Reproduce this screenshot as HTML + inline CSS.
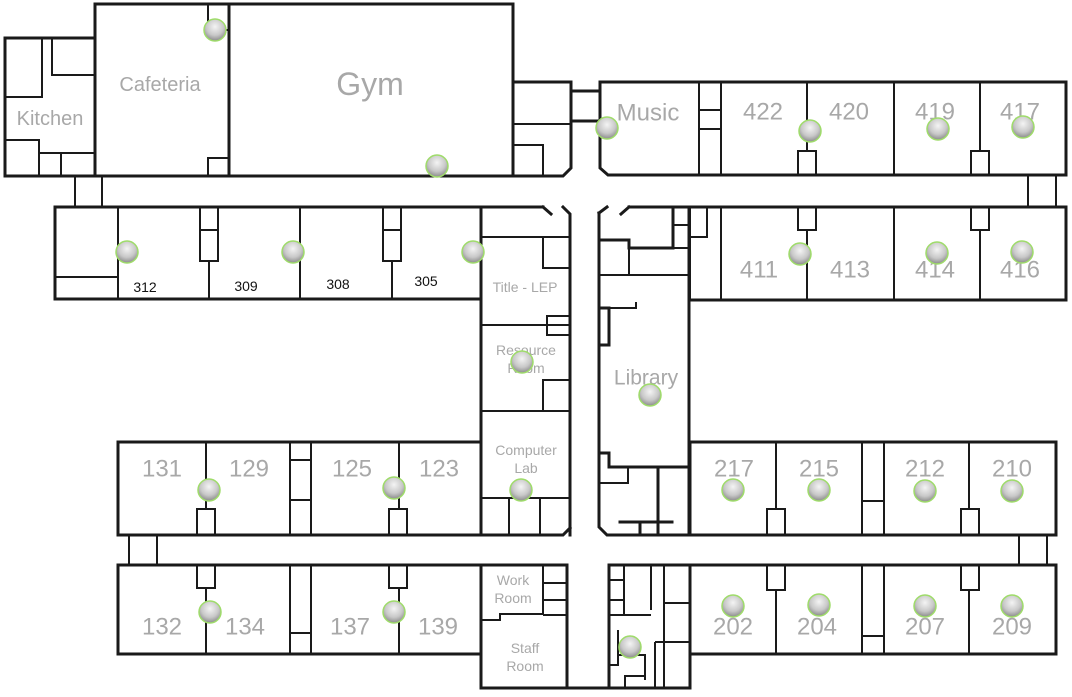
<!DOCTYPE html>
<html><head><meta charset="utf-8"><style>
html,body{margin:0;padding:0;background:#fff;}
svg{display:block;}
text{font-family:"Liberation Sans",sans-serif;fill:#a8a8a8;text-anchor:middle;dominant-baseline:central;}
text.dk{fill:#111;}
</style></head><body>
<svg width="1072" height="697" viewBox="0 0 1072 697" xmlns="http://www.w3.org/2000/svg">
<defs>
<radialGradient id="ap" cx="50%" cy="35%" r="65%">
<stop offset="0" stop-color="#f4f4f4"/><stop offset="0.6" stop-color="#c8c8c8"/><stop offset="1" stop-color="#8a8a8a"/>
</radialGradient>
</defs>
<g fill="none" stroke="#1a1a1a" stroke-width="3" stroke-linecap="square">
<path d="M95 38 H5 V176 H95"/>
<rect x="95" y="4" width="418" height="172"/>
<path d="M229 4 V176"/>
<path d="M513 82 H571 V168 L563 176 H513"/>
<path d="M571 91 H600 M571 121 H600"/>
<path d="M543 207 H55 V299 H481 M543 207 L551 214 M563 207 L570 214 V535"/>
<path d="M481 207 V535 H563 L570 528"/>
<path d="M600 82 H1066 V175 H608 L600 168 V82"/>
<path d="M629 207 H1066 V300 H690"/>
<path d="M599 213 L607 207 M621 214 L629 207"/>
<path d="M599 213 V527 L607 535 H689 V207"/>
<rect x="118" y="442" width="363" height="93"/>
<rect x="118" y="565" width="363" height="89"/>
<rect x="690" y="442" width="366" height="93"/>
<rect x="690" y="565" width="366" height="89"/>
<path d="M481 565 V688 H690 V565 M567 565 V688 M481 565 H567 M609 565 V688 M609 565 H690"/>
<path d="M599 240 H629 V248 H673 V207"/>
<path d="M599 275 V308 H609 V345 H599 M599 453 H609 V467 H689"/>
<path d="M620 522 H672 M640 522 V535 M658 467 V535"/>
</g>
<g fill="none" stroke="#1a1a1a" stroke-width="2">
<path d="M5 97 H42 V38 M52 38 V75 H95"/>
<path d="M5 140 H39 V176 M39 153 H95 M61 153 V176"/>
<rect x="208" y="4" width="21" height="26"/>
<rect x="208" y="158" width="21" height="18"/>
<path d="M513 124 H571 M513 145 H543 V176"/>
<path d="M75 176 V207 M102 176 V207"/>
<path d="M1028 175 V207 M1056 175 V207"/>
<path d="M129 535 V565 M157 535 V565"/>
<path d="M1019 535 V565 M1047 535 V565"/>
<path d="M55 277 H118 M118 207 V299 M209 261 V299 M300 207 V299 M392 261 V299"/>
<rect x="200" y="207" width="18" height="54"/><path d="M200 230 H218"/>
<rect x="383" y="207" width="18" height="54"/><path d="M383 230 H401"/>
<path d="M481 237 H570 M481 325 H570 M481 411 H570 M481 498 H570 M509 498 V535 M540 498 V535"/>
<rect x="543" y="237" width="27" height="31"/>
<rect x="547" y="316" width="23" height="19"/>
<rect x="543" y="380" width="27" height="31"/>
<path d="M481 620 H500 V614 H543 M543 565 V615 M543 583 H567 M543 600 H567 M543 615 H567"/>
<path d="M699 82 V175 M721 82 V175 M699 110 H721 M699 129 H721 M807 82 V151 M894 82 V175 M980 82 V151"/>
<rect x="798" y="151" width="18" height="24"/>
<rect x="971" y="151" width="18" height="24"/>
<path d="M690 207 V300 M707 207 V237 H690 M721 207 V300 M807 230 V300 M894 207 V300 M980 230 V300"/>
<rect x="798" y="207" width="18" height="23"/>
<rect x="971" y="207" width="18" height="23"/>
<path d="M673 225 H689 M673 248 H689 M629 248 V275 M599 275 H689 M609 308 H636 V302 M599 483 H628 V467"/>
<path d="M609 580 H624 M609 600 H624 M609 615 H651 M624 565 V615 M651 565 V610 M664 565 V688 M664 603 H690 M655 642 H690 M655 642 V688 M618 630 V665 H609 M618 655 H645 V680 M625 688 V676 H645"/>
<path d="M206 442 V509 M290 442 V535 M311 442 V535 M290 460 H311 M290 500 H311 M399 442 V509"/>
<rect x="197" y="509" width="18" height="26"/>
<rect x="389" y="509" width="18" height="26"/>
<path d="M206 588 V654 M290 565 V654 M311 565 V654 M290 633 H311 M399 588 V654"/>
<rect x="197" y="565" width="18" height="23"/>
<rect x="389" y="565" width="18" height="23"/>
<path d="M776 442 V509 M862 442 V535 M884 442 V535 M862 501 H884 M969 442 V509"/>
<rect x="767" y="509" width="18" height="26"/>
<rect x="961" y="509" width="18" height="26"/>
<path d="M776 590 V654 M862 565 V654 M884 565 V654 M862 636 H884 M969 590 V654"/>
<rect x="767" y="565" width="18" height="25"/>
<rect x="961" y="565" width="18" height="25"/>
</g>
<text x="160" y="85" font-size="20">Cafeteria</text>
<text x="370" y="84" font-size="32">Gym</text>
<text x="50" y="119" font-size="20">Kitchen</text>
<text x="648" y="113" font-size="24">Music</text>
<g font-size="24">
<text x="763" y="112">422</text><text x="849" y="112">420</text><text x="935" y="112">419</text><text x="1020" y="112">417</text>
<text x="759" y="270">411</text><text x="850" y="270">413</text><text x="935" y="270">414</text><text x="1020" y="270">416</text>
<text x="162" y="469">131</text><text x="249" y="469">129</text><text x="352" y="469">125</text><text x="439" y="469">123</text>
<text x="734" y="469">217</text><text x="819" y="469">215</text><text x="925" y="469">212</text><text x="1012" y="469">210</text>
<text x="162" y="627">132</text><text x="245" y="627">134</text><text x="350" y="627">137</text><text x="438" y="627">139</text>
<text x="733" y="627">202</text><text x="817" y="627">204</text><text x="925" y="627">207</text><text x="1012" y="627">209</text>
</g>
<g font-size="14">
<text class="dk" x="145" y="287">312</text><text class="dk" x="246" y="286">309</text><text class="dk" x="338" y="284">308</text><text class="dk" x="426" y="281">305</text>
</g>
<g font-size="14">
<text x="525" y="287">Title - LEP</text>
<text x="526" y="350">Resource</text><text x="526" y="368">Room</text>
<text x="526" y="450">Computer</text><text x="526" y="468">Lab</text>
<text x="513" y="580">Work</text><text x="513" y="598">Room</text>
<text x="525" y="648">Staff</text><text x="525" y="666">Room</text>
</g>
<text x="646" y="378" font-size="21">Library</text>
<g fill="url(#ap)" stroke="#9fdc6a" stroke-width="1.5">
<circle cx="215" cy="30" r="11"/><circle cx="437" cy="166" r="11"/><circle cx="607" cy="128" r="11"/>
<circle cx="810" cy="131" r="11"/><circle cx="938" cy="129" r="11"/><circle cx="1023" cy="127" r="11"/>
<circle cx="127" cy="252" r="11"/><circle cx="293" cy="252" r="11"/><circle cx="473" cy="252" r="11"/>
<circle cx="800" cy="254" r="11"/><circle cx="937" cy="253" r="11"/><circle cx="1022" cy="252" r="11"/>
<circle cx="522" cy="362" r="11"/><circle cx="650" cy="395" r="11"/>
<circle cx="209" cy="490" r="11"/><circle cx="394" cy="488" r="11"/><circle cx="521" cy="490" r="11"/>
<circle cx="733" cy="490" r="11"/><circle cx="819" cy="490" r="11"/><circle cx="925" cy="491" r="11"/><circle cx="1012" cy="491" r="11"/>
<circle cx="210" cy="612" r="11"/><circle cx="394" cy="612" r="11"/>
<circle cx="733" cy="606" r="11"/><circle cx="819" cy="605" r="11"/><circle cx="925" cy="606" r="11"/><circle cx="1012" cy="606" r="11"/>
<circle cx="630" cy="647" r="11"/>
</g>
</svg>
</body></html>
